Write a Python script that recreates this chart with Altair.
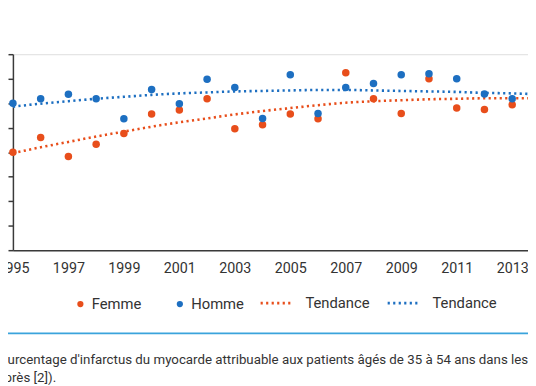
import altair as alt
import pandas as pd

years = list(range(1995, 2014))
femme = [20.0, 23.0, 19.1, 21.6, 23.8, 27.8, 28.6, 30.9, 24.8, 25.6, 27.8, 26.8, 36.2,
         30.9, 27.9, 35.0, 29.0, 28.7, 29.7]
homme = [30.0, 30.9, 31.8, 30.9, 26.8, 32.8, 29.9, 34.9, 33.2, 26.9, 35.8, 27.9, 33.2,
         34.0, 35.8, 36.0, 35.0, 31.9, 30.9]
# trend curves (1995 to 2014)
trend_years = list(range(1995, 2015))
trend_femme = [19.8, 21.0, 22.1, 23.2, 24.2, 25.2, 26.1, 26.9, 27.7, 28.4, 29.0, 29.6, 30.1,
               30.4, 30.6, 30.8, 30.9, 31.0, 31.0, 31.0]
trend_homme = [29.3, 29.9, 30.4, 30.9, 31.3, 31.7, 32.0, 32.2, 32.4, 32.5, 32.6, 32.7, 32.7,
               32.6, 32.5, 32.4, 32.3, 32.1, 32.0, 31.8]
series = ["Femme", "Homme"]
trend_names = ["Tendance F", "Tendance H"]
colors = ["#e84e1b", "#1d6fc1"]
x_ticks = list(range(1995, 2014, 2))
y_ticks = list(range(0, 45, 5))
caption_1 = "Pourcentage d'infarctus du myocarde attribuable aux patients âgés de 35 à 54 ans dans les"
caption_2 = "d'après [2])."

rows = []
for name, vals in zip(series, [femme, homme]):
    for yr, v in zip(years, vals):
        rows.append({"year": yr, "value": v, "sex": name})
df = pd.DataFrame(rows)

trows = []
for name, vals in zip(trend_names, [trend_femme, trend_homme]):
    for yr, v in zip(trend_years, vals):
        trows.append({"year": yr, "value": v, "trend": name})
tdf = pd.DataFrame(trows)

FONT = "Roboto"
TXT = "#333333"

x_scale = alt.Scale(domain=[1995, 2013.57], nice=False, zero=False)
y_scale = alt.Scale(domain=[0, 40], nice=False)

x_enc = alt.X("year:Q", scale=x_scale, title=None,
              axis=alt.Axis(values=x_ticks, format="d", ticks=False, grid=False,
                            labelFontSize=14.5, labelPadding=12, labelColor=TXT,
                            labelFont=FONT, domainColor="#3a3a3a", domainWidth=1.5,
                            labelFlush=False))
y_enc = alt.Y("value:Q", scale=y_scale, title=None,
              axis=alt.Axis(values=y_ticks, grid=False, tickSize=5, tickColor="#3a3a3a",
                            tickWidth=1.5, domainColor="#3a3a3a", domainWidth=1.5,
                            labelFontSize=14.5, labelColor=TXT, labelFont=FONT))

lines = alt.Chart(tdf).mark_line(strokeDash=[2.2, 3.4], strokeWidth=2.6, clip=True,
                                 interpolate="monotone").encode(
    x=x_enc, y=y_enc,
    color=alt.Color("trend:N", scale=alt.Scale(domain=trend_names, range=colors),
                    legend=alt.Legend(title=None, orient="none", legendX=250, legendY=235,
                                      direction="horizontal", symbolType="stroke",
                                      symbolSize=1024, symbolDash=[2.2, 3.4],
                                      symbolStrokeWidth=2.6, labelExpr="'Tendance'",
                                      labelFontSize=15, labelFont=FONT, labelColor=TXT,
                                      labelOffset=12, columnPadding=12, padding=0))
)

points = alt.Chart(df).mark_circle(size=58, opacity=1).encode(
    x=x_enc, y=y_enc,
    color=alt.Color("sex:N", scale=alt.Scale(domain=series, range=colors),
                    legend=alt.Legend(title=None, orient="none", legendX=61, legendY=246,
                                      direction="horizontal", symbolType="circle",
                                      symbolSize=40, labelFontSize=15, labelFont=FONT,
                                      labelColor=TXT, labelOffset=4, columnPadding=31,
                                      padding=0, symbolOpacity=1))
)

rule = alt.Chart(pd.DataFrame({"a": [0]})).mark_rule(color="#3aa3dc", strokeWidth=1.6).encode(
    x=alt.value(-13), x2=alt.value(523), y=alt.value(283.5)
)
cap1 = alt.Chart(pd.DataFrame({"t": [caption_1]})).mark_text(
    align="left", baseline="middle", fontSize=13.5, font=FONT, color=TXT
).encode(x=alt.value(-21.5), y=alt.value(311), text="t:N")
cap2 = alt.Chart(pd.DataFrame({"t": [caption_2]})).mark_text(
    align="left", baseline="middle", fontSize=13.5, font=FONT, color=TXT
).encode(x=alt.value(-25.5), y=alt.value(329), text="t:N")

chart = alt.layer(lines, points, rule, cap1, cap2).resolve_scale(color="independent").properties(
    width=523, height=199,
    autosize=alt.AutoSizeParams(type="none"),
    padding={"left": 5, "top": 44, "right": 0, "bottom": 135},
).configure_view(stroke=None).configure(background="white")

chart.save("out.html", embed_options={"renderer": "svg", "actions": False})
